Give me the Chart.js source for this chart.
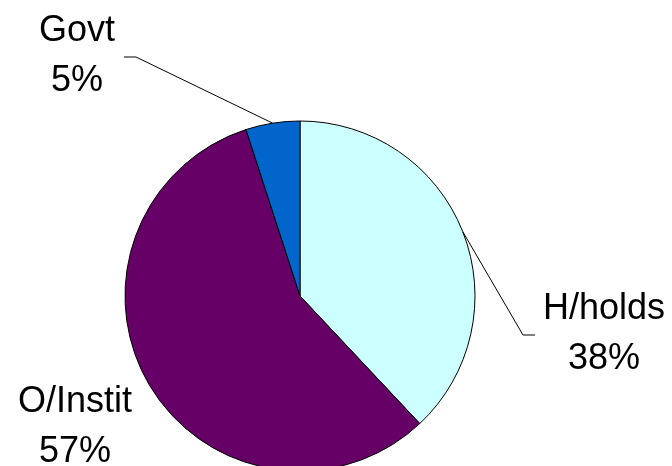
<!DOCTYPE html>
<html>
<head>
<meta charset="utf-8">
<script src="https://cdn.jsdelivr.net/npm/chart.js@4.4.1/dist/chart.umd.min.js"></script>
<style>
  html, body { margin: 0; padding: 0; background: #ffffff; }
  #wrap { width: 672px; height: 466px; }
</style>
</head>
<body>
<div id="wrap"><canvas id="pie" width="672" height="466"></canvas></div>
<script>
// Shares by holder, clockwise from 12 o'clock
const holders = ['H/holds', 'O/Instit', 'Govt'];
const shares = [38, 57, 5];
const sliceColors = ['#ccffff', '#660066', '#0066cc'];

// Where each label sits, and the bend of its leader line (null = no line)
const labelSpots = [
    { x: 604, y: 309, bend: [[523, 335], [535, 335]] },
    { x: 75, y: 402, bend: null },
    { x: 77, y: 31, bend: [[136, 57], [124, 57]] }
];

const pieLabels = {
    id: 'pieLabels',
    afterDatasetsDraw(chart) {
        const ctx = chart.ctx;
        const arcs = chart.getDatasetMeta(0).data;
        ctx.save();
        ctx.font = '36px "Liberation Sans", Arial, sans-serif';
        ctx.fillStyle = '#000000';
        ctx.textAlign = 'center';
        ctx.textBaseline = 'middle';
        arcs.forEach((arc, i) => {
            const spot = labelSpots[i];
            const total = shares.reduce((a, b) => a + b, 0);
            const pct = Math.round(shares[i] / total * 100) + '%';
            ctx.fillText(holders[i], spot.x, spot.y);
            ctx.fillText(pct, spot.x, spot.y + 50);

            if (spot.bend) {
                const mid = (arc.startAngle + arc.endAngle) / 2;
                const sx = arc.x + Math.cos(mid) * arc.outerRadius;
                const sy = arc.y + Math.sin(mid) * arc.outerRadius;
                ctx.strokeStyle = '#000000';
                ctx.lineWidth = 1;
                ctx.beginPath();
                ctx.moveTo(sx, sy);
                spot.bend.forEach(([px, py]) => ctx.lineTo(px, py));
                ctx.stroke();
            }
        });
        ctx.restore();
    }
};

new Chart(document.getElementById('pie'), {
    type: 'pie',
    plugins: [pieLabels],
    data: {
        labels: holders,
        datasets: [{
            data: shares,
            backgroundColor: sliceColors,
            borderColor: '#000000',
            borderWidth: 1,
            clip: false
        }]
    },
    options: {
        responsive: false,
        animation: false,
        radius: 175,
        layout: { padding: { left: 0, right: 72, top: 126, bottom: 0 } },
        plugins: {
            legend: { display: false },
            tooltip: { enabled: false }
        }
    }
});
</script>
</body>
</html>
